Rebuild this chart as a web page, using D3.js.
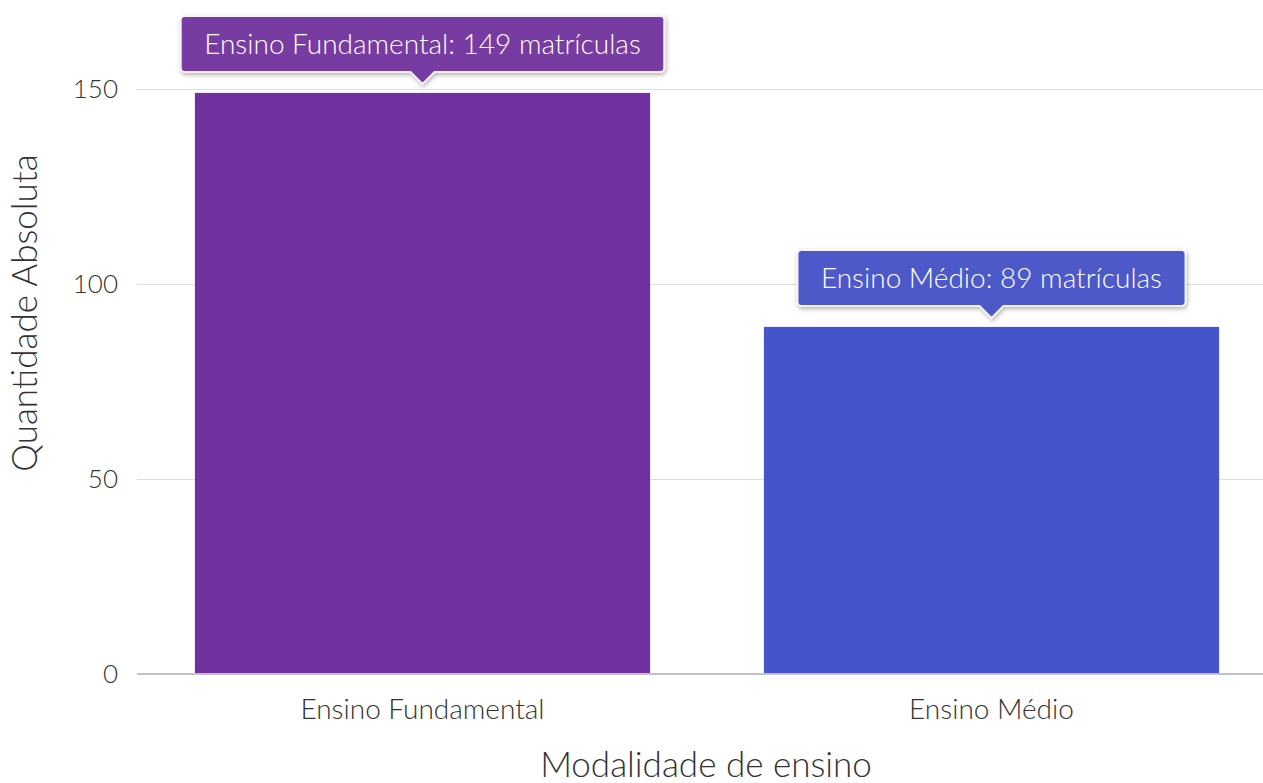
<!DOCTYPE html>
<html>
<head>
<meta charset="utf-8">
<script src="https://cdn.jsdelivr.net/npm/d3@7"></script>
<style>
  html, body { margin: 0; padding: 0; background: #fff; overflow: hidden; }
  svg { display: block; font-family: "Lato Light", "Lato", "Open Sans", sans-serif; font-weight: 300; }
</style>
</head>
<body>
<svg id="chart" width="1263" height="783"></svg>
<script>
const categories = ["Ensino Fundamental", "Ensino Médio"];
const values = [149, 89];
const colors = ["#70309e", "#4654cc"];
const tooltipColors = ["#773aa1", "#4e58c9"];
const yTicks = [0, 50, 100, 150];
const xTitle = "Modalidade de ensino";
const yTitle = "Quantidade Absoluta";
const unit = "matrículas";

const svg = d3.select("#chart");
const W = 1263, H = 783;
const x = d3.scaleBand().domain(categories).range([138, 1276]).paddingInner(0.2).paddingOuter(0.1);
const y = d3.scaleLinear().domain([0, 150]).range([674, 89]);

const defs = svg.append("defs");
const f = defs.append("filter").attr("id", "shadow").attr("x", "-10%").attr("y", "-30%").attr("width", "120%").attr("height", "170%");
f.append("feDropShadow").attr("dx", 1).attr("dy", 2).attr("stdDeviation", 2).attr("flood-color", "#000").attr("flood-opacity", 0.3);

// gridlines
svg.append("g").selectAll("line").data(yTicks.filter(d => d !== 0)).join("line")
  .attr("x1", 137).attr("x2", W).attr("y1", d => Math.round(y(d)) + 0.5).attr("y2", d => Math.round(y(d)) + 0.5)
  .attr("stroke", "#dcdcdc").attr("stroke-width", 1.2);

// y tick labels
svg.append("g").selectAll("text").data(yTicks).join("text")
  .attr("x", 118).attr("y", d => y(d)).attr("dy", "0.35em")
  .attr("text-anchor", "end").attr("font-size", 26).attr("fill", "#333")
  .text(d => d);

// bars
svg.append("g").selectAll("rect").data(categories).join("rect")
  .attr("x", d => x(d)).attr("width", x.bandwidth())
  .attr("y", (d, i) => y(values[i])).attr("height", (d, i) => y(0) - y(values[i]))
  .attr("fill", (d, i) => colors[i]);

// x axis line
svg.append("line").attr("x1", 137).attr("x2", W).attr("y1", 674).attr("y2", 674)
  .attr("stroke", "#c2c2c2").attr("stroke-width", 2);

// x labels
svg.append("g").selectAll("text").data(categories).join("text")
  .attr("x", d => x(d) + x.bandwidth() / 2).attr("y", 719)
  .attr("text-anchor", "middle").attr("font-size", 28).attr("fill", "#333")
  .text(d => d);

// axis titles
svg.append("text").attr("x", 706).attr("y", 777).attr("text-anchor", "middle")
  .attr("font-size", 35).attr("fill", "#333").text(xTitle);
svg.append("text").attr("transform", "translate(37,313) rotate(-90)").attr("text-anchor", "middle")
  .attr("font-size", 35).attr("fill", "#333").text(yTitle);

// tooltips
categories.forEach((c, i) => {
  const cx = x(c) + x.bandwidth() / 2;
  const tip = y(values[i]) - 9;
  const g = svg.append("g");
  const label = `${c}: ${values[i]} ${unit}`;
  const t = g.append("text").attr("x", cx).attr("text-anchor", "middle")
    .attr("font-size", 28).attr("fill", "#fff").text(label);
  const tw = t.node().getComputedTextLength();
  const bw = tw + 47, bh = 56;
  const bx = cx - bw / 2, by = tip - 12 - bh, r = 4;
  const p = d3.path();
  p.moveTo(bx + r, by);
  p.lineTo(bx + bw - r, by); p.arcTo(bx + bw, by, bx + bw, by + r, r);
  p.lineTo(bx + bw, by + bh - r); p.arcTo(bx + bw, by + bh, bx + bw - r, by + bh, r);
  p.lineTo(cx + 12, by + bh); p.lineTo(cx, tip); p.lineTo(cx - 12, by + bh);
  p.lineTo(bx + r, by + bh); p.arcTo(bx, by + bh, bx, by + bh - r, r);
  p.lineTo(bx, by + r); p.arcTo(bx, by, bx + r, by, r);
  p.closePath();
  g.insert("path", "text").attr("d", p.toString()).attr("fill", tooltipColors[i])
    .attr("stroke", "#f4f4f4").attr("stroke-width", 2).attr("filter", "url(#shadow)");
  t.attr("y", by + bh / 2).attr("dy", "0.35em");
});
</script>
</body>
</html>
